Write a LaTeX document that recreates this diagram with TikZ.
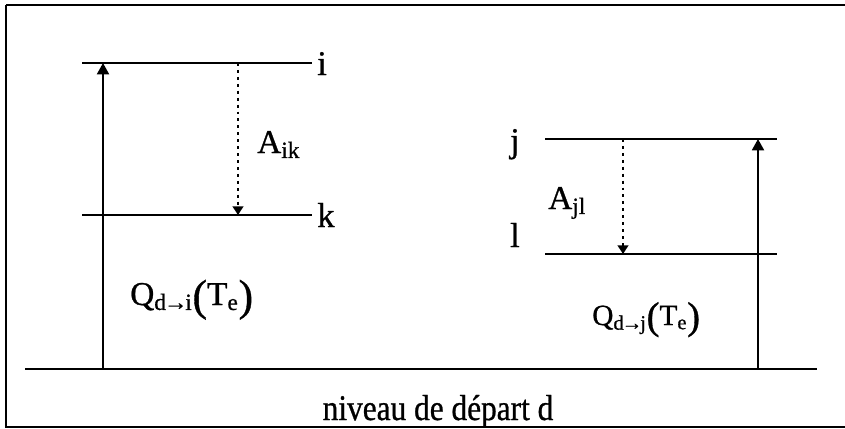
\documentclass[tikz,border=0pt]{standalone}
\usepackage{fontspec}
\setmainfont[FakeBold=0.8]{Liberation Serif}
\usetikzlibrary{arrows.meta,positioning}

\begin{document}
\begin{tikzpicture}[
  x=0.75pt, y=-0.75pt,
  lvl/.style={line width=1.5pt},
  lbl/.style={inner sep=0pt, font=\fontsize{26}{30}\selectfont},
  rate/.style={inner sep=0pt, font=\fontsize{25}{30}\selectfont},
  up/.style={line width=1.4pt, -{Triangle[length=8.5pt, width=9pt]}},
  down/.style={line width=1.6pt, dash pattern=on 2.2pt off 3pt,
               -{Triangle[length=6.5pt, width=8pt]}}
]
\useasboundingbox (0,0) rectangle (845,428);

% --- Cadre ---
\draw[line width=1.5pt] (6,5) -- (850,5);
\draw[line width=1.5pt] (6,5) -- (6,427) -- (850,427);

% --- Niveaux ---
\coordinate (iL) at (82,63);   \coordinate (iR) at (312,63);
\coordinate (kL) at (82,215);  \coordinate (kR) at (312,215);
\coordinate (jL) at (545,139); \coordinate (jR) at (777,139);
\coordinate (lL) at (545,254); \coordinate (lR) at (777,254);
\coordinate (dL) at (25,369);  \coordinate (dR) at (817,369);

\draw[lvl] (iL) -- (iR);
\draw[lvl] (kL) -- (kR);
\draw[lvl] (jL) -- (jR);
\draw[lvl] (lL) -- (lR);
\draw[lvl] (dL) -- (dR);

\node[lbl, anchor=base west] (li) at (317,75)  {i};
\node[lbl, anchor=base west] (lk) at (317,227) {k};
\node[lbl, anchor=base east] (lj) at (520,152) {j};
\node[lbl, anchor=base east] (ll) at (520,247) {l};
\node[lbl, anchor=base, font=\fontsize{23.5}{28}\selectfont] (ld) at (438,420)
  {\scalebox{1}[1.15]{niveau de départ d}};

% --- Transitions ---
\coordinate (qi0) at (103,369); \coordinate (qi1) at (103,63);
\coordinate (ai0) at (238,63);  \coordinate (ai1) at (238,215);
\coordinate (qj0) at (758,369); \coordinate (qj1) at (758,139);
\coordinate (aj0) at (623,139); \coordinate (aj1) at (623,254);

\draw[up]   (qi0) -- (qi1);
\draw[down] (ai0) -- (ai1);
\draw[up]   (qj0) -- (qj1);
\draw[down] (aj0) -- (aj1);

\node[rate, anchor=base west] (aik) at (257,153) {A\textsubscript{ik}};
\node[rate, anchor=base west] (ajl) at (548,209) {A\textsubscript{jl}};
\node[rate, anchor=base west] (qi) at (130,305)
  {Q\textsubscript{d\kern-1.5pt→\kern-1.5pt i}\raisebox{-4pt}{\fontsize{33}{33}\selectfont(}T\textsubscript{e}\raisebox{-4pt}{\fontsize{33}{33}\selectfont)}};
\node[rate, anchor=base west, font=\fontsize{22}{26}\selectfont] (qj) at (592,325)
  {Q\textsubscript{d\kern-1.5pt→\kern-1.5pt j}\raisebox{-3pt}{\fontsize{29}{29}\selectfont(}T\textsubscript{e}\raisebox{-3pt}{\fontsize{29}{29}\selectfont)}};

\end{tikzpicture}
\end{document}
